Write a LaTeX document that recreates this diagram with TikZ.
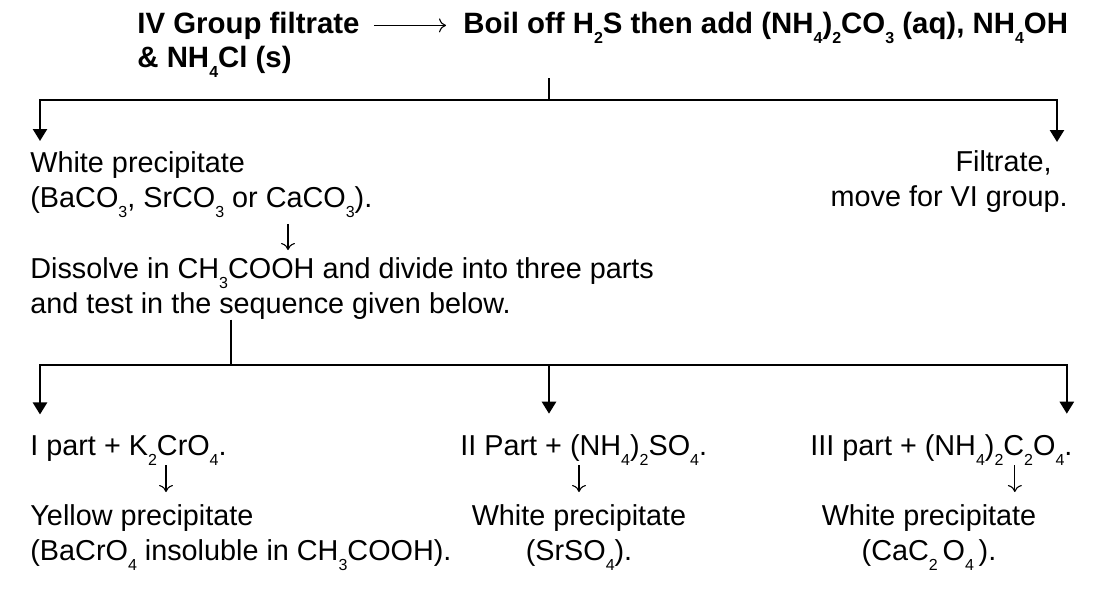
\documentclass[tikz,border=0pt]{standalone}
\usepackage{fontspec}
\setmainfont{Liberation Sans}
\usetikzlibrary{arrows.meta,positioning}
\newcommand\chsub[1]{\raisebox{-5pt}{\fontsize{8}{9}\selectfont #1}}

\begin{document}
\begin{tikzpicture}[x=0.5pt,y=-0.5pt,
      txt/.style={inner sep=0pt,font=\fontsize{14.4}{17.5}\selectfont},
      hd/.style={inner sep=0pt,font=\fontsize{14.7}{17.5}\selectfont\bfseries},
      ln/.style={line width=1.2pt},
      ar/.style={ln,-{Triangle[length=6pt,width=7pt]}},
      sm/.style={line width=0.55pt,-{To[length=3.5pt,width=7pt]}}]
    \useasboundingbox (0,0) rectangle (1116,605);
    % IV group filtrate
    \node[hd,anchor=base west] (grp) at (137,33) {IV Group filtrate};
    \node[hd,anchor=base west] (boil) at (463,33) {Boil off H\chsub{2}S then add (NH\chsub{4})\chsub{2}CO\chsub{3} (aq), NH\chsub{4}OH};
    \node[hd,anchor=base west] (boil2) at (137,68) {\& NH\chsub{4}Cl (s)};
    \draw[sm,shorten <=7pt,shorten >=8.5pt] (grp.east) -- (boil.west |- grp.east);
    % first split
    \node[txt,anchor=north west,align=left] (wp) at (30,151) {White precipitate\\(BaCO\chsub{3}, SrCO\chsub{3} or CaCO\chsub{3}).};
    \node[txt,anchor=north east,align=right] (flt) at (1068,150) {Filtrate,\hspace*{8pt}\\move for VI group.};
    \node[txt,anchor=north west,align=left] (dis) at (30,257) {Dissolve in CH\chsub{3}COOH and divide into three parts\\and test in the sequence given below.};
    \coordinate (j1) at (549,100);
    \draw[ln] (j1 |- boil2.south) -- (j1);
    \draw[ar] (j1) -| ([xshift=5pt,yshift=5pt]wp.north west);
    \draw[ar] (j1) -| ([xshift=-5.5pt,yshift=4pt]flt.north east);
    \draw[sm,shorten <=3pt,shorten >=3.5pt] ([xshift=129pt]wp.south west) -- ([xshift=129pt]dis.north west);
    % three parts
    \node[txt,anchor=base west] (p1) at (30,455) {I part + K\chsub{2}CrO\chsub{4}.};
    \node[txt,anchor=base west] (p2) at (460,455) {II Part + (NH\chsub{4})\chsub{2}SO\chsub{4}.};
    \node[txt,anchor=base west] (p3) at (810,455) {III part + (NH\chsub{4})\chsub{2}C\chsub{2}O\chsub{4}.};
    \node[txt,anchor=north west,align=left] (yp) at (30,504) {Yellow precipitate\\(BaCrO\chsub{4} insoluble in CH\chsub{3}COOH).};
    \node[txt,anchor=north,align=center] (wp2) at (579,504) {White precipitate\\(SrSO\chsub{4}).};
    \node[txt,anchor=north,align=center] (wp3) at (929,504) {White precipitate\\(CaC\chsub{2}\,O\chsub{4}\,).};
    \coordinate (j2) at (231,365);
    \draw[ln] (dis.south -| j2) -- (j2);
    \draw[ar] (j2) -| ([xshift=5pt,yshift=10pt]p1.north west);
    \draw[ar] (j2) -| ([xshift=44.5pt,yshift=10pt]p2.north west);
    \draw[ar] (j2) -| ([xshift=-3pt,yshift=10pt]p3.north east);
    \draw[sm,shorten >=6pt] ([xshift=68pt]p1.south west) -- ([xshift=68pt]yp.north west);
    \draw[sm,shorten >=6pt] (p2.south -| wp2.north) -- (wp2.north);
    \draw[sm,shorten >=6pt] ([xshift=-29pt]p3.south east) -- ([xshift=-29pt]p3.south east |- wp3.north);
  \end{tikzpicture}
\end{document}
